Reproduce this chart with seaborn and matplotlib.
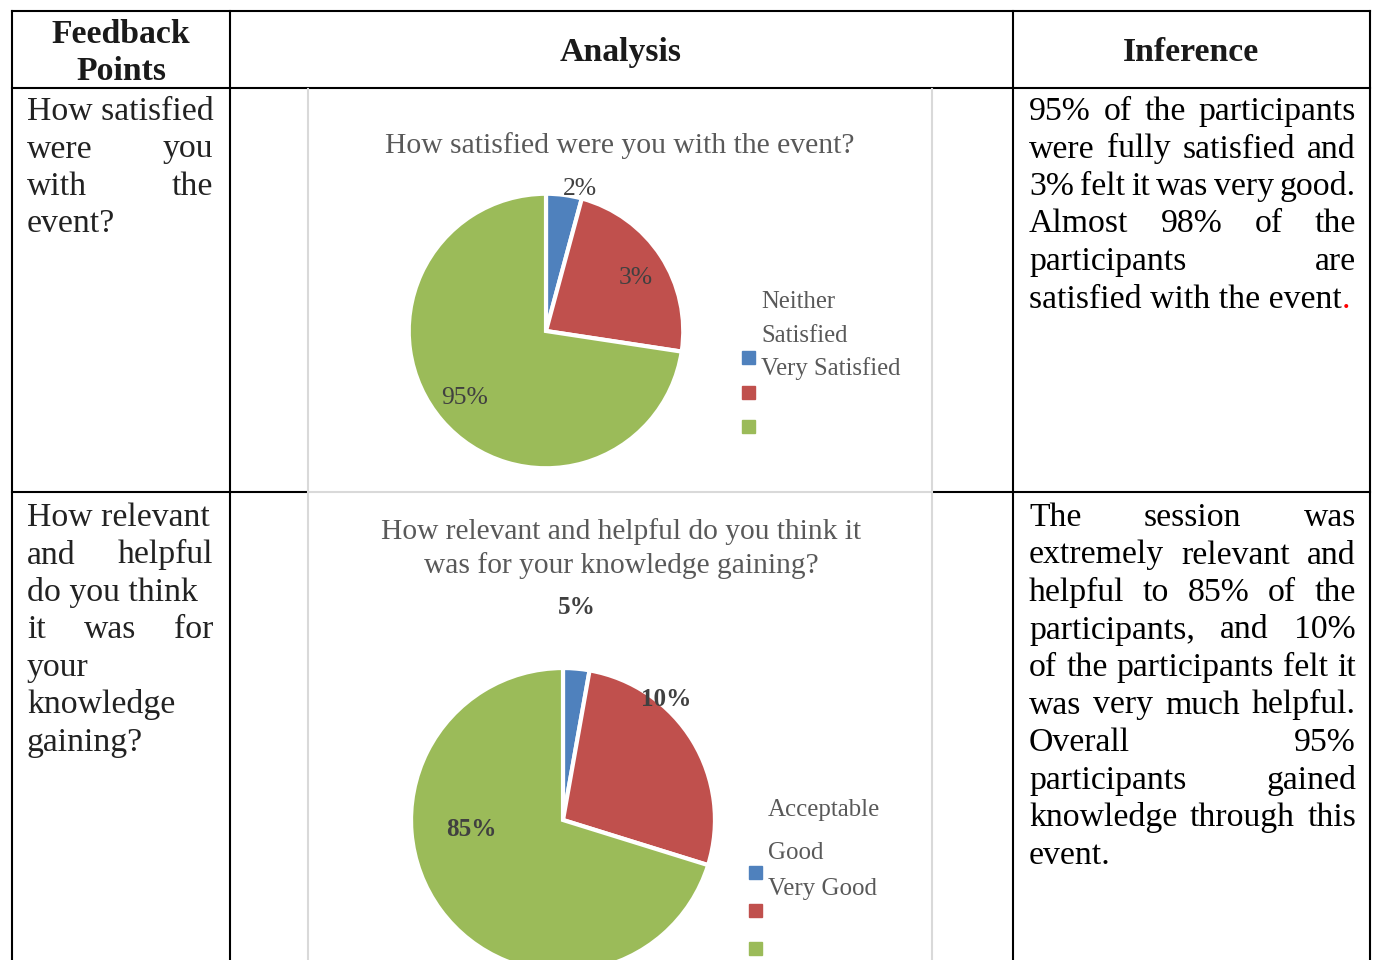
import matplotlib
matplotlib.use("Agg")
import matplotlib.pyplot as plt
from matplotlib.lines import Line2D
from matplotlib.patches import Rectangle
import seaborn as sns

sat_categories = ["Neither", "Satisfied", "Very Satisfied"]
sat_values = [4.2, 23.2, 72.6]
sat_labels = ["2%", "3%", "95%"]

rel_categories = ["Acceptable", "Good", "Very Good"]
rel_values = [2.8, 27.0, 70.2]
rel_labels = ["5%", "10%", "85%"]

pie_colors = ["#4F81BD", "#C0504D", "#9BBB59"]

headers = ["Feedback\nPoints", "Analysis", "Inference"]

# (line, justified)
q1_lines = [("How satisfied", False), ("were you", True), ("with the", True), ("event?", False)]
q2_lines = [("How relevant", False), ("and helpful", True), ("do you think", False),
            ("it was for", True), ("your", False), ("knowledge", False), ("gaining?", False)]
inf1_lines = [("95% of the participants", True), ("were fully satisfied and", True),
              ("3% felt it was very good.", True), ("Almost 98% of the", True),
              ("participants are", True), ("satisfied with the event", False)]
inf2_lines = [("The session was", True), ("extremely relevant and", True),
              ("helpful to 85% of the", True), ("participants, and 10%", True),
              ("of the participants felt it", True), ("was very much helpful.", True),
              ("Overall 95%", True), ("participants gained", True),
              ("knowledge through this", True), ("event.", False)]

title1 = "How satisfied were you with the event?"
title2 = ["How relevant and helpful do you think it", "was for your knowledge gaining?"]

W, H = 1376, 960
sns.set_theme(style="white")
plt.rcParams['font.family'] = ['Liberation Serif', 'DejaVu Serif']

fig = plt.figure(figsize=(W / 100, H / 100), dpi=100)
fig.patch.set_facecolor("white")
renderer = fig.canvas.get_renderer()


def fx(x):
    return x / W


def fy(y):
    return 1 - y / H


def width_of(s, size, **kw):
    t = fig.text(0, 0, s, fontsize=size, **kw)
    w = t.get_window_extent(renderer).width
    t.remove()
    return w


def fit(s, target, **kw):
    return 20 * target / width_of(s, 20, **kw)


def put_line(line, x0, x1, y, size, justify, color):
    words = line.split()
    if not justify or len(words) == 1:
        fig.text(fx(x0), fy(y), line, fontsize=size, color=color, va="baseline")
        return
    ws = [width_of(w, size) for w in words]
    gap = (x1 - x0 - sum(ws)) / (len(words) - 1)
    x = x0
    for w, wd in zip(words, ws):
        fig.text(fx(x), fy(y), w, fontsize=size, color=color, va="baseline")
        x += wd + gap


def hline(x0, x1, y, color="black", lw=1.5):
    fig.add_artist(Line2D([fx(x0), fx(x1)], [fy(y), fy(y)], color=color, lw=lw,
                          transform=fig.transFigure, solid_capstyle="projecting"))


def vline(x, y0, y1, color="black", lw=1.5):
    fig.add_artist(Line2D([fx(x), fx(x)], [fy(y0), fy(y1)], color=color, lw=lw,
                          transform=fig.transFigure, solid_capstyle="projecting"))


# ---- font sizes fitted to the widths in the picture ----
body = (fit("How satisfied", 185) + fit("satisfied with the event", 316)) / 2
head = fit("Analysis", 122, fontweight="bold")
tsize1 = fit(title1, 468)
tsize2 = fit(title2[0], 481)
lsize1 = fit("Very Satisfied", 140)
lsize2 = fit("Acceptable", 112)
psize1 = fit("95%", 47)
psize2 = fit("85%", 50, fontweight="bold")

# ---- pies ----
def draw_pie(cx, cy, r, values):
    ax = fig.add_axes([fx(cx - r), fy(cy + r), 2 * r / W, 2 * r / H])
    ax.pie(values, colors=pie_colors, startangle=90, counterclock=False, radius=1,
           wedgeprops=dict(edgecolor="white", linewidth=3))
    ax.set_xlim(-1.02, 1.02)
    ax.set_ylim(-1.02, 1.02)
    ax.axis("off")
    return ax


draw_pie(546, 331, 140, sat_values)
draw_pie(563, 820, 155, rel_values)

gray = "#595959"
dark = "#404040"

fig.text(fx(620), fy(153), title1, fontsize=tsize1, color=gray, ha="center", va="baseline")
for i, t in enumerate(title2):
    fig.text(fx(621), fy(539 + 34 * i), t, fontsize=tsize2, color=gray, ha="center", va="baseline")

for lab, (x, y) in zip(sat_labels, [(580, 189), (636, 278), (465, 398)]):
    fig.text(fx(x), fy(y), lab, fontsize=psize1, color=dark, ha="center", va="center")
for lab, (x, y) in zip(rel_labels, [(577, 608), (666, 699), (471, 829)]):
    fig.text(fx(x), fy(y), lab, fontsize=psize2, color=dark, ha="center", va="center",
             fontweight="bold")

# legends (text sits above the colour keys, as in the picture)
for i, (name, c) in enumerate(zip(sat_categories, pie_colors)):
    fig.text(fx(761), fy(308 + 33.5 * i), name, fontsize=lsize1, color=gray, va="baseline")
    fig.add_artist(Rectangle((fx(742), fy(364 + 34.5 * i)), 13 / W, 13 / H,
                             color=c, transform=fig.transFigure))
for i, (name, c, ty) in enumerate(zip(rel_categories, pie_colors, [816, 859, 895])):
    fig.text(fx(768), fy(ty), name, fontsize=lsize2, color=gray, va="baseline")
    fig.add_artist(Rectangle((fx(749), fy(879 + 38 * i)), 13 / W, 13 / H,
                             color=c, transform=fig.transFigure))

# ---- table grid ----
hline(12, 1370, 11)
hline(12, 1370, 88)
hline(12, 308, 492)
hline(932, 1370, 492)
for x in [12, 230, 1013, 1370]:
    vline(x, 11, 962)
light = "#D9D9D9"
vline(308, 89, 962, color=light)
vline(932, 89, 962, color=light)
hline(309, 931, 492, color=light)

# ---- headers ----
hc = "#1a1a1a"
fig.text(fx(121), fy(43), "Feedback", fontsize=head, fontweight="bold", color=hc, ha="center", va="baseline")
fig.text(fx(121), fy(80), "Points", fontsize=head, fontweight="bold", color=hc, ha="center", va="baseline")
fig.text(fx(621), fy(61), headers[1], fontsize=head, fontweight="bold", color=hc, ha="center", va="baseline")
fig.text(fx(1191), fy(61), headers[2], fontsize=head, fontweight="bold", color=hc, ha="center", va="baseline")

# ---- cell texts ----
step = 37.5
for i, (ln, j) in enumerate(q1_lines):
    put_line(ln, 27, 213, 120 + step * i, body, j, "#222222")
for i, (ln, j) in enumerate(q2_lines):
    put_line(ln, 27, 213, 526 + step * i, body, j, "#222222")
for i, (ln, j) in enumerate(inf1_lines):
    put_line(ln, 1029, 1356, 120 + step * i, body, j, "black")
last = inf1_lines[-1][0]
fig.text(fx(1029 + width_of(last, body)), fy(120 + step * 5), ".", fontsize=body,
         color="red", va="baseline")
for i, (ln, j) in enumerate(inf2_lines):
    put_line(ln, 1029, 1356, 526 + step * i, body, j, "black")

fig.savefig("out.png", dpi=100)
